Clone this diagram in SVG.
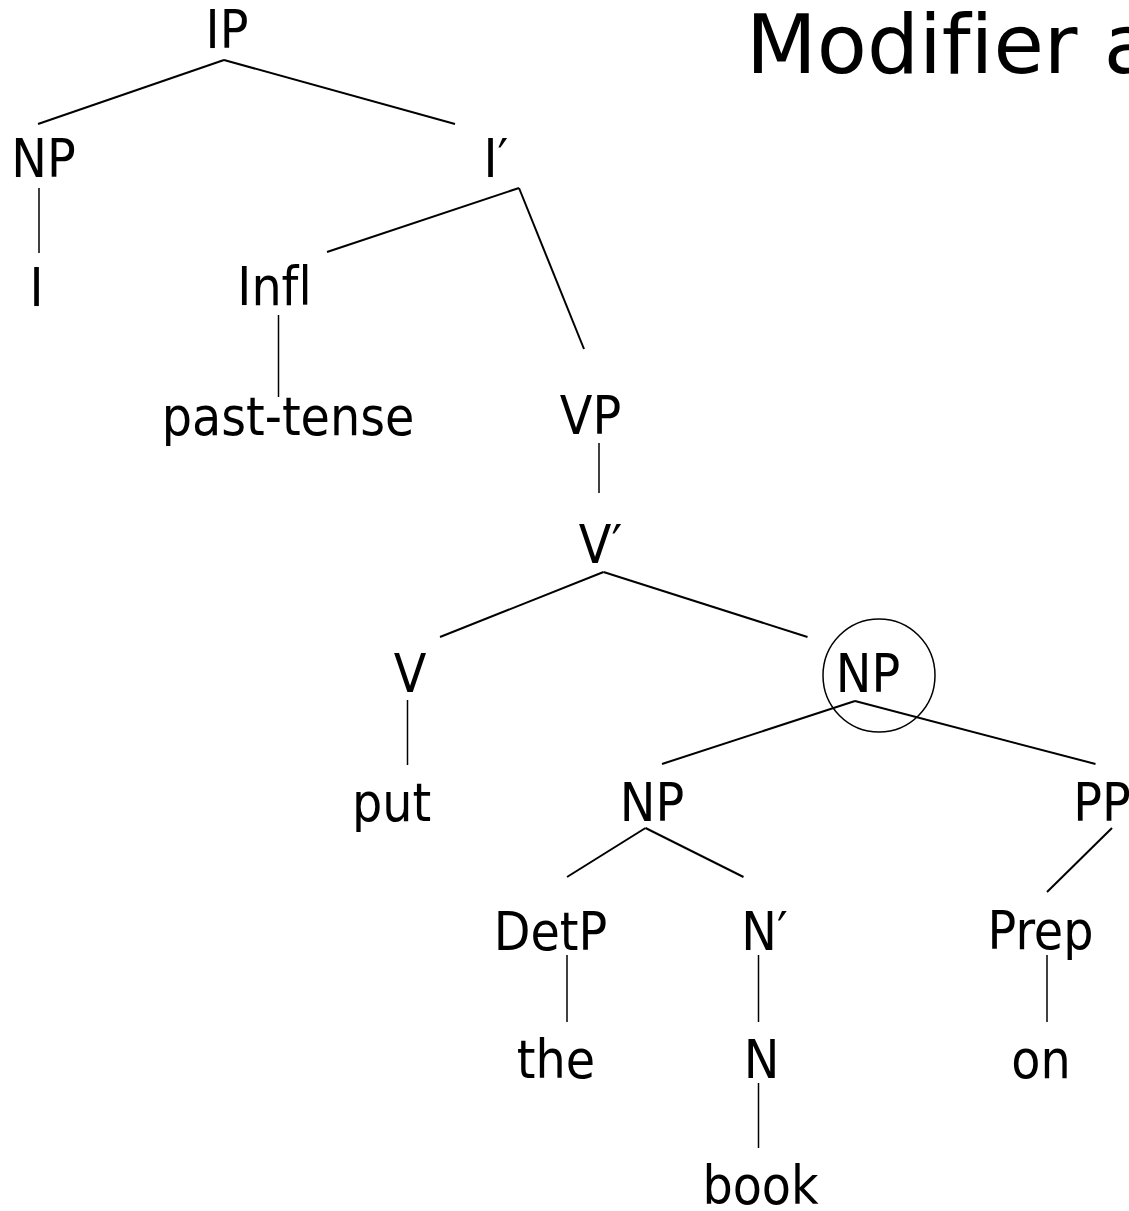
<svg xmlns="http://www.w3.org/2000/svg" width="1129" height="1211" viewBox="0 0 1129 1211">
<style>
.lbl{font-family:"DejaVu Sans Condensed","DejaVu Sans",sans-serif;font-stretch:condensed;font-size:53px;fill:#000;text-anchor:middle;font-variant-ligatures:none;font-feature-settings:"liga" 0,"clig" 0}
.title{font-family:"DejaVu Sans",sans-serif;font-size:82px;fill:#000;font-variant-ligatures:none;font-feature-settings:"liga" 0,"clig" 0}
.e{stroke:#000;stroke-width:2;fill:none;stroke-linecap:butt}
.v{stroke:#000;stroke-width:1.5;fill:none}
</style>
<rect width="1129" height="1211" fill="#fff"/>
<text id="title" class="title" x="746" y="73">Modif&#x200C;ier at</text>
<g id="connectors">
<line class="e" x1="224" y1="60" x2="38" y2="124"/>
<line class="e" x1="224" y1="60" x2="455" y2="124"/>
<line class="v" x1="39" y1="188" x2="39" y2="253"/>
<line class="e" x1="519" y1="188" x2="327" y2="252"/>
<line class="e" x1="519" y1="188" x2="584" y2="349"/>
<line class="v" x1="278.5" y1="315" x2="278.5" y2="397"/>
<line class="v" x1="599" y1="443" x2="599" y2="493"/>
<line class="e" x1="603.5" y1="572" x2="440" y2="637"/>
<line class="e" x1="603.5" y1="572" x2="807.5" y2="637"/>
<line class="v" x1="407.5" y1="700" x2="407.5" y2="765"/>
<line class="e" x1="855" y1="701" x2="662" y2="764"/>
<line class="e" x1="855" y1="701" x2="1095.5" y2="764"/>
<line class="e" x1="645.5" y1="828" x2="567" y2="877"/>
<line class="e" x1="645.5" y1="828" x2="743.5" y2="877"/>
<line class="e" x1="1112" y1="828" x2="1047" y2="892"/>
<line class="v" x1="567" y1="955" x2="567" y2="1022"/>
<line class="v" x1="758.5" y1="955" x2="758.5" y2="1022"/>
<line class="v" x1="1047" y1="955" x2="1047" y2="1022"/>
<line class="v" x1="758.5" y1="1083" x2="758.5" y2="1148"/>
</g>
<g id="n-IP"><text class="lbl" x="227" y="48">IP</text></g>
<g id="n-NP1"><text class="lbl" x="43.5" y="177">NP</text></g>
<g id="n-Ibar"><text class="lbl" x="496" y="177">I′</text></g>
<g id="n-I"><text class="lbl" x="36.5" y="306">I</text></g>
<g id="n-Infl"><text class="lbl" x="274.5" y="305">Inf&#x200C;l</text></g>
<g id="n-past"><text class="lbl" x="288" y="435">past-tense</text></g>
<g id="n-VP"><text class="lbl" x="590.5" y="434">VP</text></g>
<g id="n-Vbar"><text class="lbl" x="600.5" y="563">V′</text></g>
<g id="n-V"><text class="lbl" x="410" y="692">V</text></g>
<g id="n-NP2"><ellipse class="v" cx="879" cy="675.5" rx="56" ry="56.5"/><text class="lbl" x="868" y="692">NP</text></g>
<g id="n-put"><text class="lbl" x="391.5" y="821">put</text></g>
<g id="n-NP3"><text class="lbl" x="652" y="821">NP</text></g>
<g id="n-PP"><text class="lbl" x="1102" y="821">PP</text></g>
<g id="n-DetP"><text class="lbl" x="550.5" y="950">DetP</text></g>
<g id="n-Nbar"><text class="lbl" x="764.5" y="950">N′</text></g>
<g id="n-Prep"><text class="lbl" x="1040.5" y="949">Prep</text></g>
<g id="n-the"><text class="lbl" x="556" y="1078">the</text></g>
<g id="n-N"><text class="lbl" x="761.5" y="1078">N</text></g>
<g id="n-on"><text class="lbl" x="1041" y="1078">on</text></g>
<g id="n-book"><text class="lbl" x="760.5" y="1204">book</text></g>
</svg>
